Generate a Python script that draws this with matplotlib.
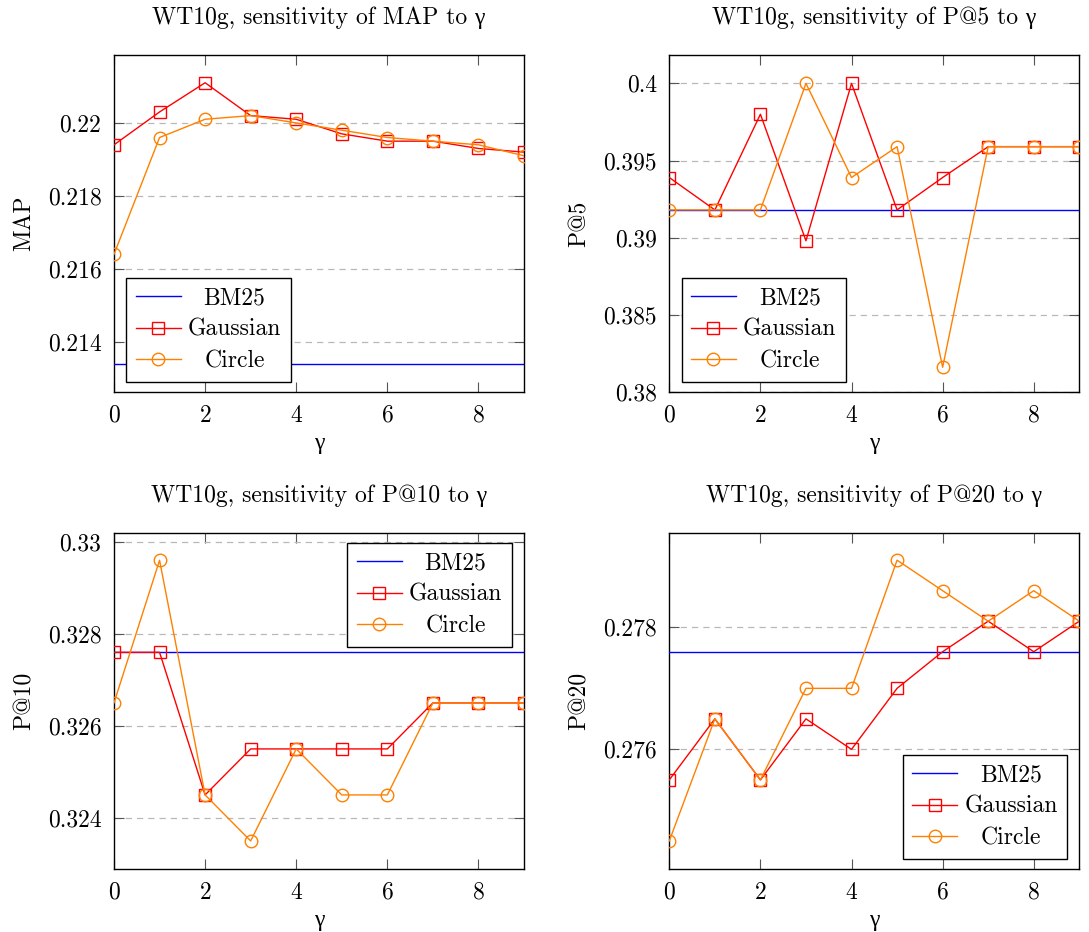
import matplotlib
matplotlib.use('Agg')
import matplotlib.pyplot as plt
from matplotlib.ticker import FixedLocator, FuncFormatter

plt.rcParams['font.family'] = ['cmr10', 'Liberation Serif', 'DejaVu Serif']
plt.rcParams['mathtext.fontset'] = 'cm'
plt.rcParams['axes.formatter.use_mathtext'] = True
plt.rcParams['font.size'] = 17

gamma = [0, 1, 2, 3, 4, 5, 6, 7, 8, 9]

# MAP
map_bm25 = 0.2134
map_gauss = [0.2194, 0.2203, 0.2211, 0.2202, 0.2201, 0.2197, 0.2195, 0.2195, 0.2193, 0.2192]
map_circle = [0.2164, 0.2196, 0.2201, 0.2202, 0.2200, 0.2198, 0.2196, 0.2195, 0.2194, 0.2191]

# P@5
p5_bm25 = 0.3918
p5_gauss = [0.3939, 0.3918, 0.3980, 0.3898, 0.4000, 0.3918, 0.3939, 0.3959, 0.3959, 0.3959]
p5_circle = [0.3918, 0.3918, 0.3918, 0.4000, 0.3939, 0.3959, 0.3816, 0.3959, 0.3959, 0.3959]

# P@10
p10_bm25 = 0.3276
p10_gauss = [0.3276, 0.3276, 0.3245, 0.3255, 0.3255, 0.3255, 0.3255, 0.3265, 0.3265, 0.3265]
p10_circle = [0.3265, 0.3296, 0.3245, 0.3235, 0.3255, 0.3245, 0.3245, 0.3265, 0.3265, 0.3265]

# P@20
p20_bm25 = 0.2776
p20_gauss = [0.2755, 0.2765, 0.2755, 0.2765, 0.2760, 0.2770, 0.2776, 0.2781, 0.2776, 0.2781]
p20_circle = [0.2745, 0.2765, 0.2755, 0.2770, 0.2770, 0.2791, 0.2786, 0.2781, 0.2786, 0.2781]

panels = [
    ('MAP', map_bm25, map_gauss, map_circle, [0.214, 0.216, 0.218, 0.22],
     (0.21263, 0.22186), (0.03, 0.03), 'lower left'),
    ('P@5', p5_bm25, p5_gauss, p5_circle, [0.38, 0.385, 0.39, 0.395, 0.4],
     (0.38, 0.40184), (0.03, 0.03), 'lower left'),
    ('P@10', p10_bm25, p10_gauss, p10_circle, [0.324, 0.326, 0.328, 0.33],
     (0.32289, 0.3302), (0.97, 0.97), 'upper right'),
    ('P@20', p20_bm25, p20_gauss, p20_circle, [0.276, 0.278],
     (0.27404, 0.27955), (0.97, 0.03), 'lower right'),
]

W, H = 1089, 932
fig = plt.figure(figsize=(W / 100, H / 100), dpi=100)
boxes = [(114, 55, 524, 392), (669.3, 55, 1079.3, 392),
         (114, 532.7, 524, 869), (669.3, 532.7, 1079.3, 869)]

blue, red, orange = '#0000ff', '#ff0000', '#ff8000'
legends = []

for (name, bm, ga, ci, yt, ylim, anchor, loc), (x0, y0, x1, y1) in zip(panels, boxes):
    ax = fig.add_axes([x0 / W, 1 - y1 / H, (x1 - x0) / W, (y1 - y0) / H])
    ax.axhline(bm, color=blue, lw=1.0, label='BM25', zorder=3)
    ax.plot(gamma, ga, color=red, lw=1.0, marker='s', ms=8.5, mfc='none',
            mec=red, mew=1.0, label='Gaussian', zorder=4)
    ax.plot(gamma, ci, color=orange, lw=1.0, marker='o', ms=9, mfc='none',
            mec=orange, mew=1.0, label='Circle', zorder=4)
    ax.set_xlim(0, 9)
    ax.set_ylim(*ylim)
    ax.set_xticks([0, 2, 4, 6, 8])
    ax.yaxis.set_major_locator(FixedLocator(yt))
    ax.yaxis.set_major_formatter(FuncFormatter(lambda v, p: '{:g}'.format(round(v, 4))))
    ax.grid(axis='y', color='#b8b8b8', lw=0.9, ls=(0, (5, 4)), zorder=1)
    ax.tick_params(direction='in', top=True, right=True, length=7,
                   color='#555555', width=0.8, pad=9, labelsize=17)
    for s in ax.spines.values():
        s.set_linewidth(1.0)
    ax.set_title('WT10g, sensitivity of %s to γ' % name, pad=22, fontsize=17)
    ax.set_xlabel('γ', labelpad=4)
    ax.set_ylabel(name, labelpad=9)
    leg = ax.legend(loc=loc, bbox_to_anchor=anchor, borderaxespad=0,
                    fancybox=False, framealpha=1, edgecolor='black',
                    handlelength=1.9, handletextpad=0.3, labelspacing=0.4,
                    borderpad=0.4, fontsize=17)
    leg.get_frame().set_linewidth(1.0)
    leg.set_zorder(10)
    legends.append(leg)

# centre the legend labels like pgfplots does
fig.canvas.draw()
r = fig.canvas.get_renderer()
for leg in legends:
    texts = leg.get_texts()
    ws = [t.get_window_extent(r).width for t in texts]
    mw = max(ws)
    for t, w in zip(texts, ws):
        t.set_x((mw - w) / 2)

fig.savefig('out.png', dpi=100)
